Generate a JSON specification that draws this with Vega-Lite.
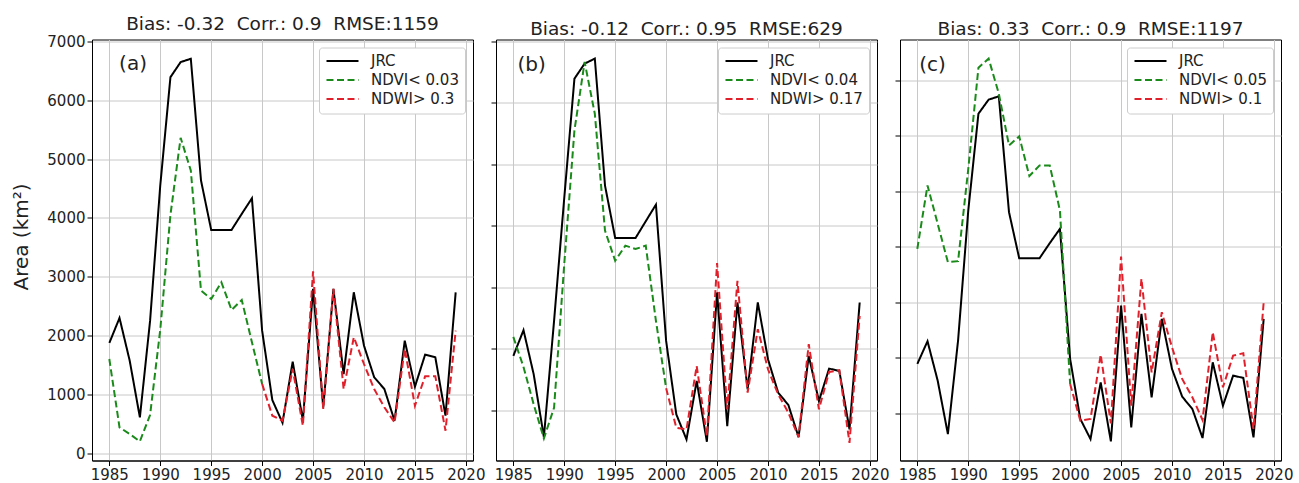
{
  "$schema": "https://vega.github.io/schema/vega-lite/v6.json",
  "background": "white",
  "padding": {"left": 11, "top": 13.5, "right": 0, "bottom": 0},
  "spacing": 23,
  "bounds": "flush",
  "config": {
    "font": "DejaVu Sans",
    "view": {"stroke": "black", "strokeWidth": 1},
    "axis": {
      "domainColor": "black", "domainWidth": 1,
      "tickColor": "black", "tickSize": 5, "tickWidth": 1,
      "labelFont": "DejaVu Sans", "labelFontSize": 15, "labelColor": "#222",
      "labelPadding": 2,
      "gridColor": "#c8c8c8", "gridWidth": 1,
      "titleFont": "DejaVu Sans", "titleFontSize": 20, "titleFontWeight": "normal", "titleColor": "#222"
    },
    "title": {"font": "DejaVu Sans", "fontSize": 18.5, "fontWeight": "normal", "color": "#222", "offset": 1, "baseline": "alphabetic"},
    "legend": {
      "orient": "top-right", "offset": 8, "padding": 6,
      "fillColor": "white", "strokeColor": "#cccccc", "cornerRadius": 3,
      "labelFont": "DejaVu Sans", "labelFontSize": 15, "labelColor": "#222",
      "rowPadding": 3, "symbolType": "M-2.667,0L2.667,0", "symbolSize": 144,
      "symbolStrokeWidth": 2, "symbolOffset": 10, "labelOffset": 21
    }
  },
  "datasets": {
    "a": [
      {"year":1985,"series":"JRC","area":1875},{"year":1986,"series":"JRC","area":2300},{"year":1987,"series":"JRC","area":1575},{"year":1988,"series":"JRC","area":612},{"year":1989,"series":"JRC","area":2250},{"year":1990,"series":"JRC","area":4550},{"year":1991,"series":"JRC","area":6390},{"year":1992,"series":"JRC","area":6646},{"year":1993,"series":"JRC","area":6703},{"year":1994,"series":"JRC","area":4635},{"year":1995,"series":"JRC","area":3796},{"year":1996,"series":"JRC","area":3796},{"year":1997,"series":"JRC","area":3796},{"year":1998,"series":"JRC","area":4068},{"year":1999,"series":"JRC","area":4334},{"year":2000,"series":"JRC","area":2085},{"year":2001,"series":"JRC","area":906},{"year":2002,"series":"JRC","area":520},{"year":2003,"series":"JRC","area":1558},{"year":2004,"series":"JRC","area":560},{"year":2005,"series":"JRC","area":2793},{"year":2006,"series":"JRC","area":782},{"year":2007,"series":"JRC","area":2793},{"year":2008,"series":"JRC","area":1348},{"year":2009,"series":"JRC","area":2736},{"year":2010,"series":"JRC","area":1830},{"year":2011,"series":"JRC","area":1292},{"year":2012,"series":"JRC","area":1093},{"year":2013,"series":"JRC","area":555},{"year":2014,"series":"JRC","area":1915},{"year":2015,"series":"JRC","area":1133},{"year":2016,"series":"JRC","area":1677},{"year":2017,"series":"JRC","area":1632},{"year":2018,"series":"JRC","area":640},{"year":2019,"series":"JRC","area":2736},
      {"year":1985,"series":"NDVI< 0.03","area":1603},{"year":1986,"series":"NDVI< 0.03","area":442},{"year":1987,"series":"NDVI< 0.03","area":329},{"year":1988,"series":"NDVI< 0.03","area":204},{"year":1989,"series":"NDVI< 0.03","area":650},{"year":1990,"series":"NDVI< 0.03","area":2100},{"year":1991,"series":"NDVI< 0.03","area":4050},{"year":1992,"series":"NDVI< 0.03","area":5360},{"year":1993,"series":"NDVI< 0.03","area":4805},{"year":1994,"series":"NDVI< 0.03","area":2765},{"year":1995,"series":"NDVI< 0.03","area":2623},{"year":1996,"series":"NDVI< 0.03","area":2907},{"year":1997,"series":"NDVI< 0.03","area":2436},{"year":1998,"series":"NDVI< 0.03","area":2606},{"year":1999,"series":"NDVI< 0.03","area":1887},{"year":2000,"series":"NDVI< 0.03","area":1180},
      {"year":2000,"series":"NDWI> 0.3","area":1180},{"year":2001,"series":"NDWI> 0.3","area":640},{"year":2002,"series":"NDWI> 0.3","area":555},{"year":2003,"series":"NDWI> 0.3","area":1433},{"year":2004,"series":"NDWI> 0.3","area":470},{"year":2005,"series":"NDWI> 0.3","area":3093},{"year":2006,"series":"NDWI> 0.3","area":754},{"year":2007,"series":"NDWI> 0.3","area":2793},{"year":2008,"series":"NDWI> 0.3","area":1093},{"year":2009,"series":"NDWI> 0.3","area":1972},{"year":2010,"series":"NDWI> 0.3","area":1518},{"year":2011,"series":"NDWI> 0.3","area":1093},{"year":2012,"series":"NDWI> 0.3","area":782},{"year":2013,"series":"NDWI> 0.3","area":527},{"year":2014,"series":"NDWI> 0.3","area":1773},{"year":2015,"series":"NDWI> 0.3","area":810},{"year":2016,"series":"NDWI> 0.3","area":1309},{"year":2017,"series":"NDWI> 0.3","area":1309},{"year":2018,"series":"NDWI> 0.3","area":385},{"year":2019,"series":"NDWI> 0.3","area":2085}
    ],
    "b": [
      {"year":1985,"series":"JRC","area":1880},{"year":1986,"series":"JRC","area":2299},{"year":1987,"series":"JRC","area":1582},{"year":1988,"series":"JRC","area":560},{"year":1989,"series":"JRC","area":2450},{"year":1990,"series":"JRC","area":4450},{"year":1991,"series":"JRC","area":6391},{"year":1992,"series":"JRC","area":6636},{"year":1993,"series":"JRC","area":6717},{"year":1994,"series":"JRC","area":4652},{"year":1995,"series":"JRC","area":3799},{"year":1996,"series":"JRC","area":3799},{"year":1997,"series":"JRC","area":3799},{"year":1998,"series":"JRC","area":4071},{"year":1999,"series":"JRC","area":4342},{"year":2000,"series":"JRC","area":2125},{"year":2001,"series":"JRC","area":929},{"year":2002,"series":"JRC","area":522},{"year":2003,"series":"JRC","area":1473},{"year":2004,"series":"JRC","area":484},{"year":2005,"series":"JRC","area":2913},{"year":2006,"series":"JRC","area":739},{"year":2007,"series":"JRC","area":2750},{"year":2008,"series":"JRC","area":1337},{"year":2009,"series":"JRC","area":2750},{"year":2010,"series":"JRC","area":1826},{"year":2011,"series":"JRC","area":1283},{"year":2012,"series":"JRC","area":1082},{"year":2013,"series":"JRC","area":560},{"year":2014,"series":"JRC","area":1880},{"year":2015,"series":"JRC","area":1147},{"year":2016,"series":"JRC","area":1674},{"year":2017,"series":"JRC","area":1636},{"year":2018,"series":"JRC","area":685},{"year":2019,"series":"JRC","area":2750},
      {"year":1985,"series":"NDVI< 0.04","area":2190},{"year":1986,"series":"NDVI< 0.04","area":1700},{"year":1987,"series":"NDVI< 0.04","area":1092},{"year":1988,"series":"NDVI< 0.04","area":538},{"year":1989,"series":"NDVI< 0.04","area":1038},{"year":1990,"series":"NDVI< 0.04","area":3375},{"year":1991,"series":"NDVI< 0.04","area":5549},{"year":1992,"series":"NDVI< 0.04","area":6663},{"year":1993,"series":"NDVI< 0.04","area":5820},{"year":1994,"series":"NDVI< 0.04","area":3918},{"year":1995,"series":"NDVI< 0.04","area":3429},{"year":1996,"series":"NDVI< 0.04","area":3674},{"year":1997,"series":"NDVI< 0.04","area":3620},{"year":1998,"series":"NDVI< 0.04","area":3674},{"year":1999,"series":"NDVI< 0.04","area":2451},{"year":2000,"series":"NDVI< 0.04","area":1355},
      {"year":2000,"series":"NDWI> 0.17","area":1355},{"year":2001,"series":"NDWI> 0.17","area":712},{"year":2002,"series":"NDWI> 0.17","area":685},{"year":2003,"series":"NDWI> 0.17","area":1717},{"year":2004,"series":"NDWI> 0.17","area":576},{"year":2005,"series":"NDWI> 0.17","area":3391},{"year":2006,"series":"NDWI> 0.17","area":1011},{"year":2007,"series":"NDWI> 0.17","area":3103},{"year":2008,"series":"NDWI> 0.17","area":1283},{"year":2009,"series":"NDWI> 0.17","area":2315},{"year":2010,"series":"NDWI> 0.17","area":1663},{"year":2011,"series":"NDWI> 0.17","area":1255},{"year":2012,"series":"NDWI> 0.17","area":957},{"year":2013,"series":"NDWI> 0.17","area":560},{"year":2014,"series":"NDWI> 0.17","area":2071},{"year":2015,"series":"NDWI> 0.17","area":1011},{"year":2016,"series":"NDWI> 0.17","area":1620},{"year":2017,"series":"NDWI> 0.17","area":1647},{"year":2018,"series":"NDWI> 0.17","area":467},{"year":2019,"series":"NDWI> 0.17","area":2533}
    ],
    "c": [
      {"year":1985,"series":"JRC","area":1888},{"year":1986,"series":"JRC","area":2297},{"year":1987,"series":"JRC","area":1587},{"year":1988,"series":"JRC","area":625},{"year":1989,"series":"JRC","area":2309},{"year":1990,"series":"JRC","area":4650},{"year":1991,"series":"JRC","area":6398},{"year":1992,"series":"JRC","area":6651},{"year":1993,"series":"JRC","area":6711},{"year":1994,"series":"JRC","area":4624},{"year":1995,"series":"JRC","area":3794},{"year":1996,"series":"JRC","area":3794},{"year":1997,"series":"JRC","area":3794},{"year":1998,"series":"JRC","area":4065},{"year":1999,"series":"JRC","area":4323},{"year":2000,"series":"JRC","area":1978},{"year":2001,"series":"JRC","area":896},{"year":2002,"series":"JRC","area":535},{"year":2003,"series":"JRC","area":1557},{"year":2004,"series":"JRC","area":493},{"year":2005,"series":"JRC","area":2940},{"year":2006,"series":"JRC","area":746},{"year":2007,"series":"JRC","area":2790},{"year":2008,"series":"JRC","area":1287},{"year":2009,"series":"JRC","area":2700},{"year":2010,"series":"JRC","area":1798},{"year":2011,"series":"JRC","area":1299},{"year":2012,"series":"JRC","area":1076},{"year":2013,"series":"JRC","area":553},{"year":2014,"series":"JRC","area":1918},{"year":2015,"series":"JRC","area":1136},{"year":2016,"series":"JRC","area":1678},{"year":2017,"series":"JRC","area":1636},{"year":2018,"series":"JRC","area":565},{"year":2019,"series":"JRC","area":2700},
      {"year":1985,"series":"NDVI< 0.05","area":3963},{"year":1986,"series":"NDVI< 0.05","area":5105},{"year":1987,"series":"NDVI< 0.05","area":4414},{"year":1988,"series":"NDVI< 0.05","area":3722},{"year":1989,"series":"NDVI< 0.05","area":3740},{"year":1990,"series":"NDVI< 0.05","area":5400},{"year":1991,"series":"NDVI< 0.05","area":7228},{"year":1992,"series":"NDVI< 0.05","area":7390},{"year":1993,"series":"NDVI< 0.05","area":6759},{"year":1994,"series":"NDVI< 0.05","area":5827},{"year":1995,"series":"NDVI< 0.05","area":5989},{"year":1996,"series":"NDVI< 0.05","area":5274},{"year":1997,"series":"NDVI< 0.05","area":5466},{"year":1998,"series":"NDVI< 0.05","area":5466},{"year":1999,"series":"NDVI< 0.05","area":4654},{"year":2000,"series":"NDVI< 0.05","area":1527},
      {"year":2000,"series":"NDWI> 0.1","area":1527},{"year":2001,"series":"NDWI> 0.1","area":866},{"year":2002,"series":"NDWI> 0.1","area":896},{"year":2003,"series":"NDWI> 0.1","area":2056},{"year":2004,"series":"NDWI> 0.1","area":818},{"year":2005,"series":"NDWI> 0.1","area":3824},{"year":2006,"series":"NDWI> 0.1","area":1136},{"year":2007,"series":"NDWI> 0.1","area":3422},{"year":2008,"series":"NDWI> 0.1","area":1738},{"year":2009,"series":"NDWI> 0.1","area":2820},{"year":2010,"series":"NDWI> 0.1","area":2189},{"year":2011,"series":"NDWI> 0.1","area":1618},{"year":2012,"series":"NDWI> 0.1","area":1287},{"year":2013,"series":"NDWI> 0.1","area":878},{"year":2014,"series":"NDWI> 0.1","area":2459},{"year":2015,"series":"NDWI> 0.1","area":1467},{"year":2016,"series":"NDWI> 0.1","area":2038},{"year":2017,"series":"NDWI> 0.1","area":2081},{"year":2018,"series":"NDWI> 0.1","area":716},{"year":2019,"series":"NDWI> 0.1","area":3000}
    ]
  },
  "resolve": {
    "scale": {"x": "independent", "y": "independent", "color": "independent", "strokeDash": "independent"},
    "legend": {"color": "independent", "strokeDash": "independent"}
  },
  "hconcat": [
    {
      "width": 381, "height": 421,
      "title": {"text": "Bias: -0.32\u00a0 Corr.: 0.9\u00a0 RMSE:1159"},
      "layer": [
        {
          "data": {"name": "a"},
          "mark": {"type": "line", "strokeWidth": 2, "clip": true},
          "encoding": {
            "x": {"field": "year", "type": "quantitative", "scale": {"domain": [1983.3, 2020.7], "nice": false, "zero": false}, "axis": {"values": [1985,1990,1995,2000,2005,2010,2015,2020], "format": "d", "title": null}},
            "y": {"field": "area", "type": "quantitative", "scale": {"domain": [-121, 7030], "nice": false, "zero": false}, "axis": {"values": [0,1000,2000,3000,4000,5000,6000,7000], "format": "d", "title": "Area (km²)", "titlePadding": 15, "titleY": 197}},
            "color": {"field": "series", "type": "nominal", "scale": {"domain": ["JRC", "NDVI< 0.03", "NDWI> 0.3"], "range": ["black", "#1a8a1a", "#e0212b"]}, "legend": {"title": null}},
            "strokeDash": {"field": "series", "type": "nominal", "scale": {"domain": ["JRC", "NDVI< 0.03", "NDWI> 0.3"], "range": [[1, 0], [7, 3.5], [7, 3.5]]}, "legend": {"title": null}}
          }
        },
        {
          "data": {"values": [{}]},
          "mark": {"type": "text", "fontSize": 20, "font": "DejaVu Sans", "color": "#222", "align": "center", "baseline": "middle"},
          "encoding": {"x": {"datum": 1987.33}, "y": {"datum": 6610}, "text": {"value": "(a)"}}
        }
      ]
    },
    {
      "width": 381, "height": 421,
      "title": {"text": "Bias: -0.12\u00a0 Corr.: 0.95\u00a0 RMSE:629"},
      "layer": [
        {
          "data": {"name": "b"},
          "mark": {"type": "line", "strokeWidth": 2, "clip": true},
          "encoding": {
            "x": {"field": "year", "type": "quantitative", "scale": {"domain": [1983.3, 2020.7], "nice": false, "zero": false}, "axis": {"values": [1985,1990,1995,2000,2005,2010,2015,2020], "format": "d", "title": null}},
            "y": {"field": "area", "type": "quantitative", "scale": {"domain": [179, 7028], "nice": false, "zero": false}, "axis": {"values": [1000,2000,3000,4000,5000,6000,7000], "labels": false, "title": null}},
            "color": {"field": "series", "type": "nominal", "scale": {"domain": ["JRC", "NDVI< 0.04", "NDWI> 0.17"], "range": ["black", "#1a8a1a", "#e0212b"]}, "legend": {"title": null}},
            "strokeDash": {"field": "series", "type": "nominal", "scale": {"domain": ["JRC", "NDVI< 0.04", "NDWI> 0.17"], "range": [[1, 0], [7, 3.5], [7, 3.5]]}, "legend": {"title": null}}
          }
        },
        {
          "data": {"values": [{}]},
          "mark": {"type": "text", "fontSize": 20, "font": "DejaVu Sans", "color": "#222", "align": "center", "baseline": "middle"},
          "encoding": {"x": {"datum": 1986.8}, "y": {"datum": 6609}, "text": {"value": "(b)"}}
        }
      ]
    },
    {
      "width": 381, "height": 421,
      "title": {"text": "Bias: 0.33\u00a0 Corr.: 0.9\u00a0 RMSE:1197"},
      "layer": [
        {
          "data": {"name": "c"},
          "mark": {"type": "line", "strokeWidth": 2, "clip": true},
          "encoding": {
            "x": {"field": "year", "type": "quantitative", "scale": {"domain": [1983.3, 2020.7], "nice": false, "zero": false}, "axis": {"values": [1985,1990,1995,2000,2005,2010,2015,2020], "format": "d", "title": null}},
            "y": {"field": "area", "type": "quantitative", "scale": {"domain": [148, 7735], "nice": false, "zero": false}, "axis": {"values": [1000,2000,3000,4000,5000,6000,7000], "labels": false, "title": null}},
            "color": {"field": "series", "type": "nominal", "scale": {"domain": ["JRC", "NDVI< 0.05", "NDWI> 0.1"], "range": ["black", "#1a8a1a", "#e0212b"]}, "legend": {"title": null}},
            "strokeDash": {"field": "series", "type": "nominal", "scale": {"domain": ["JRC", "NDVI< 0.05", "NDWI> 0.1"], "range": [[1, 0], [7, 3.5], [7, 3.5]]}, "legend": {"title": null}}
          }
        },
        {
          "data": {"values": [{}]},
          "mark": {"type": "text", "fontSize": 20, "font": "DejaVu Sans", "color": "#222", "align": "center", "baseline": "middle"},
          "encoding": {"x": {"datum": 1986.5}, "y": {"datum": 7270}, "text": {"value": "(c)"}}
        }
      ]
    }
  ]
}
